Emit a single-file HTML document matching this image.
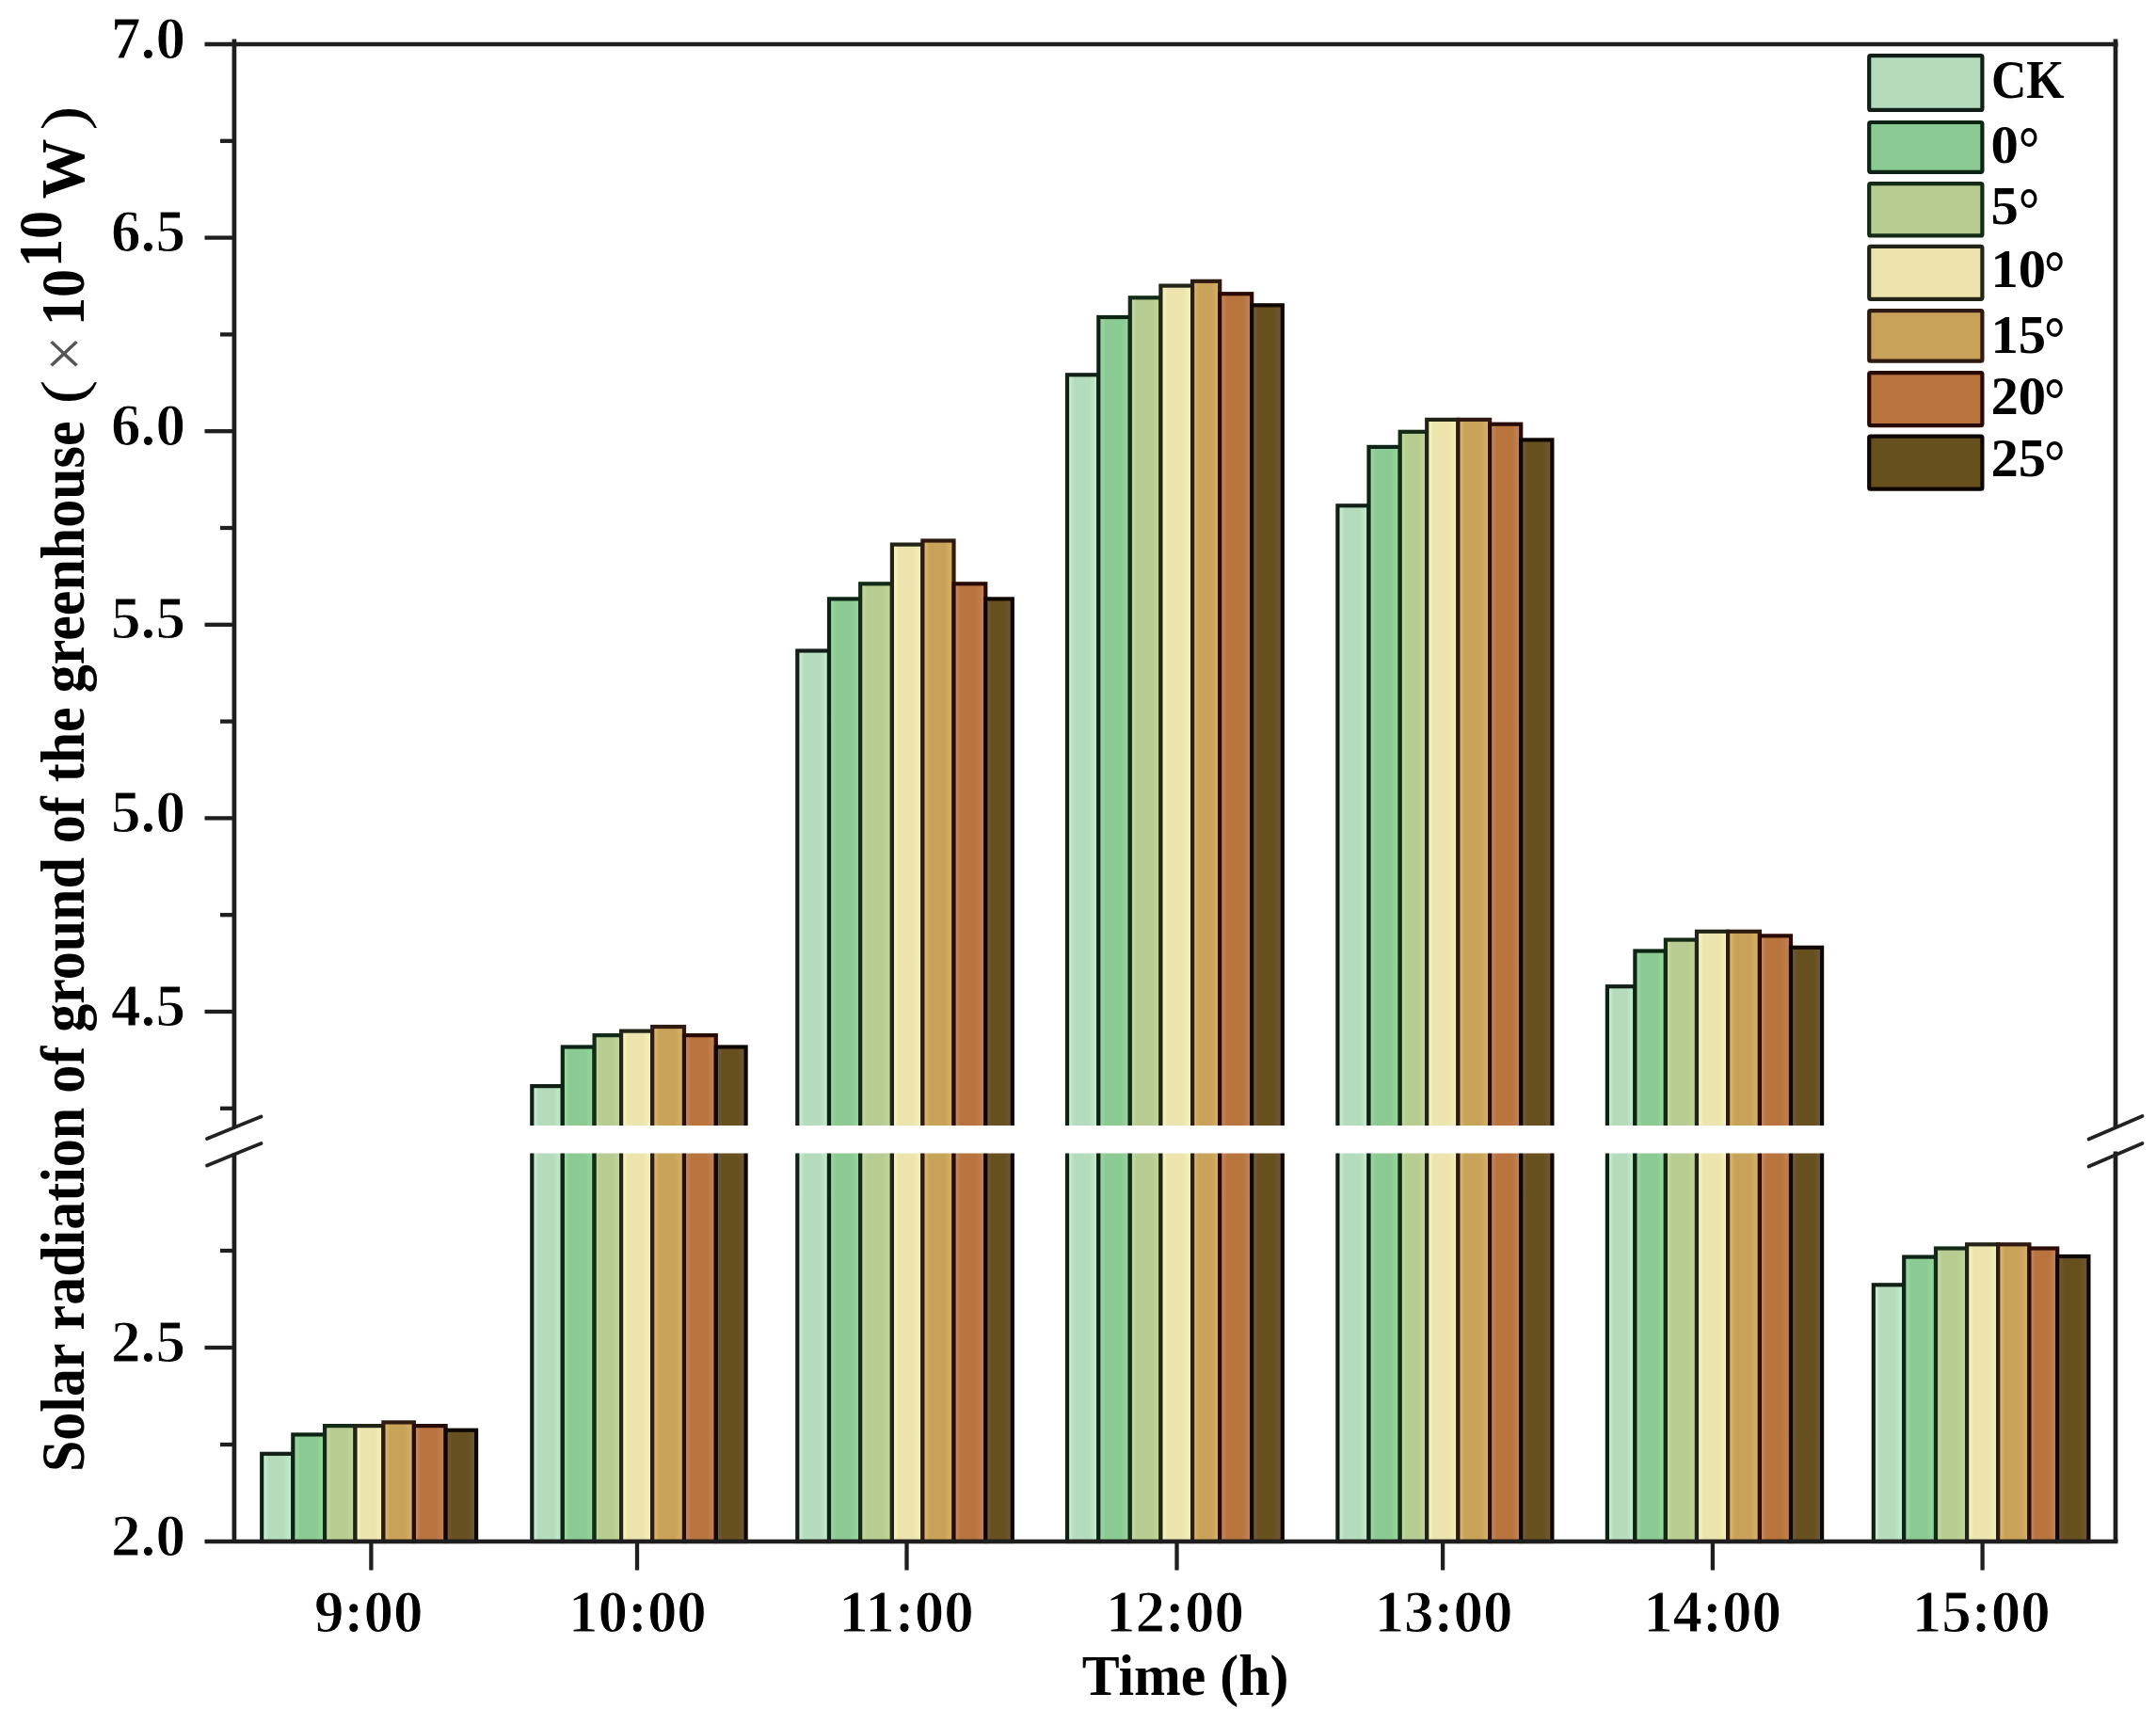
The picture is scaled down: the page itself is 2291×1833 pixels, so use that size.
<!DOCTYPE html>
<html lang="en"><head><meta charset="utf-8"><title>Solar radiation of ground of the greenhouse</title>
<style>html,body{margin:0;padding:0;background:#fff;overflow:hidden}svg{display:block}text{font-family:"Liberation Serif","Noto Serif CJK SC",serif;font-weight:bold;fill:#000;stroke:#fff;stroke-width:1px}.r{font-weight:normal;stroke:none}.l{stroke:none}</style></head><body>
<svg width="2291" height="1833" viewBox="0 0 2291 1833">
<rect width="2291" height="1833" fill="#fff"/>
<defs>
<linearGradient id="g0" x1="0" x2="1" y1="0" y2="0"><stop offset="0" stop-color="#c6eed0"/><stop offset="0.08" stop-color="#c6eed0"/><stop offset="0.22" stop-color="#b4dcbc"/><stop offset="0.7" stop-color="#b4dcbc"/><stop offset="1" stop-color="#c6eed0"/></linearGradient>
<linearGradient id="g1" x1="0" x2="1" y1="0" y2="0"><stop offset="0" stop-color="#9ad6a0"/><stop offset="0.08" stop-color="#9ad6a0"/><stop offset="0.22" stop-color="#8cca94"/><stop offset="0.7" stop-color="#8cca94"/><stop offset="1" stop-color="#9ad6a0"/></linearGradient>
<linearGradient id="g2" x1="0" x2="1" y1="0" y2="0"><stop offset="0" stop-color="#c2d89c"/><stop offset="0.08" stop-color="#c2d89c"/><stop offset="0.22" stop-color="#b6cc90"/><stop offset="0.7" stop-color="#b6cc90"/><stop offset="1" stop-color="#c2d89c"/></linearGradient>
<linearGradient id="g3" x1="0" x2="1" y1="0" y2="0"><stop offset="0" stop-color="#f6f4c2"/><stop offset="0.08" stop-color="#f6f4c2"/><stop offset="0.22" stop-color="#ece4ac"/><stop offset="0.7" stop-color="#ece4ac"/><stop offset="1" stop-color="#f6f4c2"/></linearGradient>
<linearGradient id="g4" x1="0" x2="1" y1="0" y2="0"><stop offset="0" stop-color="#d8b66c"/><stop offset="0.08" stop-color="#d8b66c"/><stop offset="0.22" stop-color="#c8a258"/><stop offset="0.7" stop-color="#c8a258"/><stop offset="1" stop-color="#d8b66c"/></linearGradient>
<linearGradient id="g5" x1="0" x2="1" y1="0" y2="0"><stop offset="0" stop-color="#c48660"/><stop offset="0.08" stop-color="#c48660"/><stop offset="0.22" stop-color="#b8743c"/><stop offset="0.7" stop-color="#b8743c"/><stop offset="1" stop-color="#c48660"/></linearGradient>
<linearGradient id="g6" x1="0" x2="1" y1="0" y2="0"><stop offset="0" stop-color="#70593a"/><stop offset="0.08" stop-color="#70593a"/><stop offset="0.22" stop-color="#66501e"/><stop offset="0.7" stop-color="#66501e"/><stop offset="1" stop-color="#70593a"/></linearGradient>
</defs>
<g id="bars" stroke-width="4.2" stroke-linejoin="miter">
<rect x="278.20" y="1544.80" width="33.10" height="93.20" fill="url(#g0)" stroke="#111f16"/>
<rect x="311.30" y="1524.40" width="33.80" height="113.60" fill="url(#g1)" stroke="#0c2414"/>
<rect x="345.10" y="1515.10" width="32.40" height="122.90" fill="url(#g2)" stroke="#132a17"/>
<rect x="377.50" y="1515.10" width="29.90" height="122.90" fill="url(#g3)" stroke="#222418"/>
<rect x="407.40" y="1511.40" width="32.50" height="126.60" fill="url(#g4)" stroke="#2e1a10"/>
<rect x="439.90" y="1515.10" width="33.70" height="122.90" fill="url(#g5)" stroke="#280a06"/>
<rect x="473.60" y="1519.70" width="32.50" height="118.30" fill="url(#g6)" stroke="#0e0603"/>
<rect x="565.30" y="1154.10" width="32.50" height="483.90" fill="url(#g0)" stroke="#111f16"/>
<rect x="597.80" y="1112.50" width="33.80" height="525.50" fill="url(#g1)" stroke="#0c2414"/>
<rect x="631.60" y="1100.10" width="28.50" height="537.90" fill="url(#g2)" stroke="#132a17"/>
<rect x="660.10" y="1095.60" width="33.10" height="542.40" fill="url(#g3)" stroke="#222418"/>
<rect x="693.20" y="1091.00" width="33.80" height="547.00" fill="url(#g4)" stroke="#2e1a10"/>
<rect x="727.00" y="1100.10" width="33.80" height="537.90" fill="url(#g5)" stroke="#280a06"/>
<rect x="760.80" y="1112.50" width="31.80" height="525.50" fill="url(#g6)" stroke="#0e0603"/>
<rect x="847.30" y="691.50" width="33.70" height="946.50" fill="url(#g0)" stroke="#111f16"/>
<rect x="881.00" y="636.40" width="33.20" height="1001.60" fill="url(#g1)" stroke="#0c2414"/>
<rect x="914.20" y="620.30" width="33.70" height="1017.70" fill="url(#g2)" stroke="#132a17"/>
<rect x="947.90" y="578.60" width="32.50" height="1059.40" fill="url(#g3)" stroke="#222418"/>
<rect x="980.40" y="574.50" width="33.10" height="1063.50" fill="url(#g4)" stroke="#2e1a10"/>
<rect x="1013.50" y="620.30" width="33.80" height="1017.70" fill="url(#g5)" stroke="#280a06"/>
<rect x="1047.30" y="636.40" width="28.50" height="1001.60" fill="url(#g6)" stroke="#0e0603"/>
<rect x="1134.00" y="398.30" width="33.30" height="1239.70" fill="url(#g0)" stroke="#111f16"/>
<rect x="1167.30" y="337.00" width="33.50" height="1301.00" fill="url(#g1)" stroke="#0c2414"/>
<rect x="1200.80" y="316.30" width="32.60" height="1321.70" fill="url(#g2)" stroke="#132a17"/>
<rect x="1233.40" y="303.60" width="33.70" height="1334.40" fill="url(#g3)" stroke="#222418"/>
<rect x="1267.10" y="298.80" width="29.10" height="1339.20" fill="url(#g4)" stroke="#2e1a10"/>
<rect x="1296.20" y="312.20" width="34.00" height="1325.80" fill="url(#g5)" stroke="#280a06"/>
<rect x="1330.20" y="324.30" width="32.60" height="1313.70" fill="url(#g6)" stroke="#0e0603"/>
<rect x="1421.40" y="537.30" width="33.10" height="1100.70" fill="url(#g0)" stroke="#111f16"/>
<rect x="1454.50" y="474.90" width="33.20" height="1163.10" fill="url(#g1)" stroke="#0c2414"/>
<rect x="1487.70" y="458.80" width="28.50" height="1179.20" fill="url(#g2)" stroke="#132a17"/>
<rect x="1516.20" y="445.90" width="33.20" height="1192.10" fill="url(#g3)" stroke="#222418"/>
<rect x="1549.40" y="445.90" width="33.70" height="1192.10" fill="url(#g4)" stroke="#2e1a10"/>
<rect x="1583.10" y="450.70" width="33.10" height="1187.30" fill="url(#g5)" stroke="#280a06"/>
<rect x="1616.20" y="467.40" width="33.20" height="1170.60" fill="url(#g6)" stroke="#0e0603"/>
<rect x="1707.90" y="1048.20" width="29.50" height="589.80" fill="url(#g0)" stroke="#111f16"/>
<rect x="1737.40" y="1010.50" width="32.50" height="627.50" fill="url(#g1)" stroke="#0c2414"/>
<rect x="1769.90" y="998.60" width="33.10" height="639.40" fill="url(#g2)" stroke="#132a17"/>
<rect x="1803.00" y="989.80" width="33.10" height="648.20" fill="url(#g3)" stroke="#222418"/>
<rect x="1836.10" y="989.80" width="33.80" height="648.20" fill="url(#g4)" stroke="#2e1a10"/>
<rect x="1869.90" y="994.40" width="33.10" height="643.60" fill="url(#g5)" stroke="#280a06"/>
<rect x="1903.00" y="1006.80" width="33.10" height="631.20" fill="url(#g6)" stroke="#0e0603"/>
<rect x="1990.80" y="1365.30" width="32.40" height="272.70" fill="url(#g0)" stroke="#111f16"/>
<rect x="2023.20" y="1335.60" width="33.80" height="302.40" fill="url(#g1)" stroke="#0c2414"/>
<rect x="2057.00" y="1326.50" width="33.10" height="311.50" fill="url(#g2)" stroke="#132a17"/>
<rect x="2090.10" y="1322.30" width="33.10" height="315.70" fill="url(#g3)" stroke="#222418"/>
<rect x="2123.20" y="1322.30" width="33.20" height="315.70" fill="url(#g4)" stroke="#2e1a10"/>
<rect x="2156.40" y="1326.50" width="29.80" height="311.50" fill="url(#g5)" stroke="#280a06"/>
<rect x="2186.20" y="1335.00" width="33.20" height="303.00" fill="url(#g6)" stroke="#0e0603"/>
</g>
<rect x="262" y="1196" width="1975" height="29.5" fill="#fff"/>
<g id="axes" stroke="#1e1e1e" stroke-width="4.7" fill="none" stroke-linecap="butt">
<line x1="217.5" y1="47" x2="2250.5" y2="47"/>
<line x1="217.5" y1="1638" x2="2250.5" y2="1638"/>
<line x1="248.9" y1="41.5" x2="248.9" y2="1197.5"/>
<line x1="248.9" y1="1225.5" x2="248.9" y2="1638"/>
<line x1="2248" y1="41.5" x2="2248" y2="1197.5"/>
<line x1="2248" y1="1223.5" x2="2248" y2="1638"/>
<line x1="217.5" y1="252.6" x2="248.9" y2="252.6" stroke-width="4.3"/>
<line x1="217.5" y1="458.2" x2="248.9" y2="458.2" stroke-width="4.3"/>
<line x1="217.5" y1="663.8" x2="248.9" y2="663.8" stroke-width="4.3"/>
<line x1="217.5" y1="869.4" x2="248.9" y2="869.4" stroke-width="4.3"/>
<line x1="217.5" y1="1075.0" x2="248.9" y2="1075.0" stroke-width="4.3"/>
<line x1="234" y1="149.8" x2="248.9" y2="149.8" stroke-width="4.3"/>
<line x1="234" y1="355.4" x2="248.9" y2="355.4" stroke-width="4.3"/>
<line x1="234" y1="561.0" x2="248.9" y2="561.0" stroke-width="4.3"/>
<line x1="234" y1="766.6" x2="248.9" y2="766.6" stroke-width="4.3"/>
<line x1="234" y1="972.2" x2="248.9" y2="972.2" stroke-width="4.3"/>
<line x1="234" y1="1177.8" x2="248.9" y2="1177.8" stroke-width="4.3"/>
<line x1="217.5" y1="1432.0" x2="248.9" y2="1432.0" stroke-width="4.3"/>
<line x1="234" y1="1535.0" x2="248.9" y2="1535.0" stroke-width="4.3"/>
<line x1="234" y1="1329.0" x2="248.9" y2="1329.0" stroke-width="4.3"/>
<line x1="394.4" y1="1638" x2="394.4" y2="1668.5" stroke-width="4.3"/>
<line x1="677.0" y1="1638" x2="677.0" y2="1668.5" stroke-width="4.3"/>
<line x1="963.5" y1="1638" x2="963.5" y2="1668.5" stroke-width="4.3"/>
<line x1="1250.5" y1="1638" x2="1250.5" y2="1668.5" stroke-width="4.3"/>
<line x1="1533.1" y1="1638" x2="1533.1" y2="1668.5" stroke-width="4.3"/>
<line x1="1819.9" y1="1638" x2="1819.9" y2="1668.5" stroke-width="4.3"/>
<line x1="2106.6" y1="1638" x2="2106.6" y2="1668.5" stroke-width="4.3"/>
</g>
<g id="breaks" stroke="#222" stroke-width="3.7" stroke-linecap="round">
<line x1="220" y1="1210" x2="277.5" y2="1186.5"/>
<line x1="220" y1="1238.5" x2="277.5" y2="1215"/>
<line x1="2219.5" y1="1210.5" x2="2276.5" y2="1186"/>
<line x1="2219.5" y1="1239.5" x2="2276.5" y2="1215"/>
</g>
<g id="ylabels">
<text transform="translate(197.0,61.6) scale(0.995,1)" font-size="63.5" text-anchor="end">7.0</text>
<text transform="translate(197.0,267.2) scale(0.995,1)" font-size="63.5" text-anchor="end">6.5</text>
<text transform="translate(197.0,472.8) scale(0.995,1)" font-size="63.5" text-anchor="end">6.0</text>
<text transform="translate(197.0,678.4) scale(0.995,1)" font-size="63.5" text-anchor="end">5.5</text>
<text transform="translate(197.0,884.0) scale(0.995,1)" font-size="63.5" text-anchor="end">5.0</text>
<text transform="translate(197.0,1089.6) scale(0.995,1)" font-size="63.5" text-anchor="end">4.5</text>
<text transform="translate(197.0,1446.6) scale(0.995,1)" font-size="63.5" text-anchor="end">2.5</text>
<text transform="translate(197.0,1652.6) scale(0.995,1)" font-size="63.5" text-anchor="end">2.0</text>
</g>
<g id="xlabels">
<text transform="translate(391.8,1734.2) scale(0.992,1)" font-size="63.5" text-anchor="middle">9:00</text>
<text transform="translate(677.4,1734.2) scale(0.992,1)" font-size="63.5" text-anchor="middle">10:00</text>
<text transform="translate(962.9,1734.2) scale(0.992,1)" font-size="63.5" text-anchor="middle">11:00</text>
<text transform="translate(1248.5,1734.2) scale(0.992,1)" font-size="63.5" text-anchor="middle">12:00</text>
<text transform="translate(1534.1,1734.2) scale(0.992,1)" font-size="63.5" text-anchor="middle">13:00</text>
<text transform="translate(1819.6,1734.2) scale(0.992,1)" font-size="63.5" text-anchor="middle">14:00</text>
<text transform="translate(2105.2,1734.2) scale(0.992,1)" font-size="63.5" text-anchor="middle">15:00</text>
<text transform="translate(1259.5,1800.5) scale(0.98,1)" font-size="61" text-anchor="middle" class="l">Time (h)</text>
</g>
<g id="ytitle" transform="translate(89.3,1564) scale(1.06,1) rotate(-90)" font-size="60">
<text transform="translate(0,0) scale(0.9836,1)" font-size="61" class="l">Solar radiation of ground of the greenhouse</text>
<text transform="translate(1134.5,0) scale(1.2700,1)" font-size="61" class="r">(</text>
<text x="1169" y="2.5" font-size="68" class="r" style="fill:#555">×</text>
<text transform="translate(1218,0) scale(0.9836,1)" font-size="61" class="l">10</text>
<text transform="translate(1280,-23.3) scale(0.9836,1)" font-size="61" class="l">10</text>
<text transform="translate(1352.5,0) scale(1.0500,1)" font-size="61" class="l">W</text>
<text transform="translate(1425.5,0) scale(1.2700,1)" font-size="61" class="r">)</text>
</g>
<g id="legend">
<rect x="1986.2" y="59.2" width="120.2" height="57.7" fill="#b4dcbc" stroke="#111f16" stroke-width="4.2" rx="1.5"/>
<text transform="translate(2116.0,103.7) scale(0.9,1)" font-size="57.5" text-anchor="start" class="l">CK</text>
<rect x="1986.2" y="130.0" width="120.2" height="52.8" fill="#8cca94" stroke="#0c2414" stroke-width="4.2" rx="1.5"/>
<text transform="translate(2115.5,172.9) scale(1.02,1)" font-size="57.5" text-anchor="start" class="l">0</text>
<text transform="translate(2144.8,179.8) scale(0.86,1)" font-size="65.6" text-anchor="start" class="l">°</text>
<rect x="1986.2" y="195.1" width="120.2" height="55.3" fill="#b6cc90" stroke="#132a17" stroke-width="4.2" rx="1.5"/>
<text transform="translate(2115.5,238.0) scale(1.02,1)" font-size="57.5" text-anchor="start" class="l">5</text>
<text transform="translate(2144.8,244.9) scale(0.86,1)" font-size="65.6" text-anchor="start" class="l">°</text>
<rect x="1986.2" y="261.9" width="120.2" height="55.9" fill="#ece4ac" stroke="#222418" stroke-width="4.2" rx="1.5"/>
<text transform="translate(2115.5,305.0) scale(1.02,1)" font-size="57.5" text-anchor="start" class="l">10</text>
<text transform="translate(2172.1,311.9) scale(0.86,1)" font-size="65.6" text-anchor="start" class="l">°</text>
<rect x="1986.2" y="330.1" width="120.2" height="53.6" fill="#c8a258" stroke="#2e1a10" stroke-width="4.2" rx="1.5"/>
<text transform="translate(2115.5,374.6) scale(1.02,1)" font-size="57.5" text-anchor="start" class="l">15</text>
<text transform="translate(2172.1,381.5) scale(0.86,1)" font-size="65.6" text-anchor="start" class="l">°</text>
<rect x="1986.2" y="396.1" width="120.2" height="56.0" fill="#b8743c" stroke="#280a06" stroke-width="4.2" rx="1.5"/>
<text transform="translate(2115.5,439.7) scale(1.02,1)" font-size="57.5" text-anchor="start" class="l">20</text>
<text transform="translate(2172.1,446.6) scale(0.86,1)" font-size="65.6" text-anchor="start" class="l">°</text>
<rect x="1986.2" y="463.6" width="120.2" height="56.1" fill="#66501e" stroke="#0e0603" stroke-width="4.2" rx="1.5"/>
<text transform="translate(2115.5,505.7) scale(1.02,1)" font-size="57.5" text-anchor="start" class="l">25</text>
<text transform="translate(2172.1,512.6) scale(0.86,1)" font-size="65.6" text-anchor="start" class="l">°</text>
</g>
</svg></body></html>
